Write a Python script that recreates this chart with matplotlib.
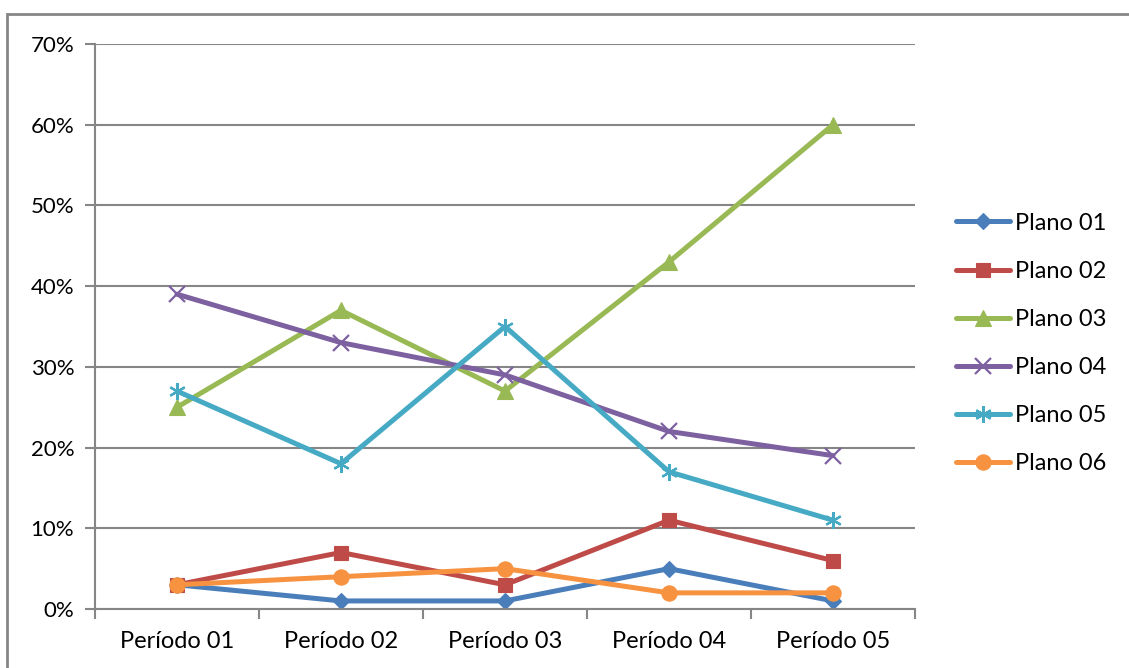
import matplotlib.pyplot as plt
from matplotlib.patches import Rectangle

periods = ["Período 01", "Período 02", "Período 03", "Período 04", "Período 05"]
names = ["Plano 01", "Plano 02", "Plano 03", "Plano 04", "Plano 05", "Plano 06"]
plano01 = [3, 1, 1, 5, 1]
plano02 = [3, 7, 3, 11, 6]
plano03 = [25, 37, 27, 43, 60]
plano04 = [39, 33, 29, 22, 19]
plano05 = [27, 18, 35, 17, 11]
plano06 = [3, 4, 5, 2, 2]

series = [plano01, plano02, plano03, plano04, plano05, plano06]
colors = ["#4A7EBB", "#BE4B48", "#98B954", "#7D60A0", "#46AAC5", "#F69240"]
markers = ["D", "s", "^", "x", (6, 2, 0), "o"]
msizes = [8, 10, 11, 11, 12, 11]

plt.rcParams['font.family'] = ['Lato', 'DejaVu Sans']
fs = 17

fig = plt.figure(figsize=(11.29, 6.68), dpi=100)
# chart border (cut at right/bottom like the reference)
fig.patches.append(Rectangle((7 / 1129, -0.1), 1.2, 1 - 14 / 668 + 0.1,
                             transform=fig.transFigure, fill=False,
                             edgecolor="#868686", linewidth=2))

ax = fig.add_axes([95 / 1129, 1 - 609 / 668, 820 / 1129, 565 / 668])
x = list(range(len(periods)))
for vals, name, c, m, ms in zip(series, names, colors, markers, msizes):
    thin = m == "x" or isinstance(m, tuple)
    ax.plot(x, vals, color=c, linewidth=3.6, marker=m, markersize=ms,
            markeredgewidth=1.6 if thin else 0.8, markerfacecolor=c,
            markeredgecolor=c, label=name, solid_capstyle="round")

ax.set_xlim(-0.5, 4.5)
ax.set_ylim(0, 70)
ax.set_yticks(range(0, 71, 10))
ax.set_yticklabels([f"{v}%" for v in range(0, 71, 10)])
ax.set_xticks(x)
ax.set_xticklabels(periods)
ax.set_xticks([i - 0.5 for i in range(6)], minor=True)
ax.tick_params(axis="x", which="major", length=0, pad=16, labelsize=fs)
ax.tick_params(axis="x", which="minor", length=7, color="#868686", width=1.5)
ax.tick_params(axis="y", length=7, color="#868686", width=1.5, pad=8, labelsize=16)
ax.grid(axis="y", color="#868686", linewidth=1.5)
ax.set_axisbelow(True)
for s in ["top", "right"]:
    ax.spines[s].set_visible(False)
for s in ["left", "bottom"]:
    ax.spines[s].set_color("#868686")
    ax.spines[s].set_linewidth(1.5)

leg = ax.legend(loc="center left", bbox_to_anchor=((956 - 95) / 820, (609 - 343.5) / 565),
                frameon=False, fontsize=fs, handlelength=2.3, handletextpad=0.2,
                labelspacing=1.15, borderaxespad=0, borderpad=0)

fig.savefig("out.png", dpi=100)
